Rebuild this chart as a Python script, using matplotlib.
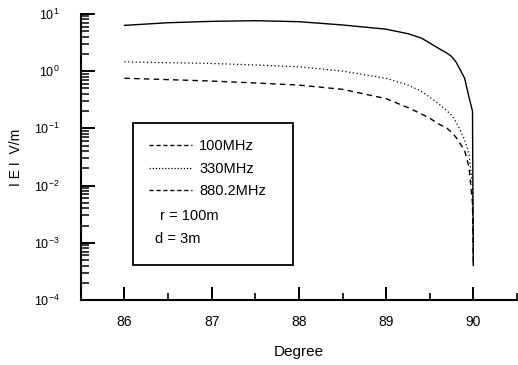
import matplotlib
matplotlib.use("Agg")
import matplotlib.pyplot as plt
from matplotlib.lines import Line2D
from matplotlib.patches import Rectangle
from matplotlib.ticker import LogLocator, MultipleLocator, NullFormatter

plt.rcParams['font.family'] = ['Liberation Sans', 'DejaVu Sans']

# Valores
grados = [86.0, 86.5, 87.0, 87.5, 88.0, 88.5, 89.0, 89.25, 89.4, 89.5, 89.6,
          89.7, 89.75, 89.8, 89.85, 89.9, 89.95, 89.99, 90.0]
e_100 = [6.3, 7.0, 7.4, 7.6, 7.3, 6.4, 5.4, 4.5, 3.8, 3.1, 2.5,
         2.05, 1.8, 1.45, 1.05, 0.75, 0.35, 0.2, 0.0004]
e_330 = [1.45, 1.40, 1.36, 1.28, 1.19, 1.0, 0.75, 0.57, 0.45, 0.35, 0.27,
         0.20, 0.17, 0.13, 0.093, 0.063, 0.036, 0.01, 0.0004]
e_880 = [0.75, 0.71, 0.67, 0.62, 0.57, 0.48, 0.33, 0.23, 0.18, 0.15, 0.12,
         0.10, 0.085, 0.07, 0.054, 0.041, 0.021, 0.005, 0.0004]

etiquetas = ['100MHz', '330MHz', '880.2MHz']
notas = ['r = 100m', 'd = 3m']

fig = plt.figure(figsize=(5.18, 3.65), dpi=100)
ax = fig.add_axes([0.156, 0.178, 0.842, 0.784])

ax.plot(grados, e_100, color='black', lw=1.0)
ax.plot(grados, e_330, color='black', lw=0.9, linestyle=(0, (1, 2)))
ax.plot(grados, e_880, color='black', lw=1.0, linestyle=(0, (4, 3)))

ax.set_yscale('log')
ax.set_ylim(1e-4, 1e1)
ax.set_xlim(85.5, 90.5)
ax.xaxis.set_major_locator(MultipleLocator(1))
ax.xaxis.set_minor_locator(MultipleLocator(0.5))
ax.yaxis.set_major_locator(LogLocator(base=10, numticks=10))
ax.yaxis.set_minor_locator(LogLocator(base=10, subs=range(2, 10), numticks=20))
ax.yaxis.set_minor_formatter(NullFormatter())

for lado in ['top', 'right']:
    ax.spines[lado].set_visible(False)
for lado in ['left', 'bottom']:
    ax.spines[lado].set_linewidth(1.5)

ax.tick_params(axis='x', which='major', direction='in', length=9.5, width=1.4,
               labelsize=10, pad=11)
ax.tick_params(axis='x', which='minor', direction='in', length=5, width=1.2)
ax.tick_params(axis='y', which='major', direction='in', length=10, width=1.4,
               labelsize=9, pad=15)
ax.tick_params(axis='y', which='minor', direction='in', length=6, width=1.1)

ax.set_xlabel('Degree', fontsize=11, labelpad=11)
ax.set_ylabel('I E I  V/m', fontsize=10, labelpad=8)

# Caja de la leyenda
ax.add_patch(Rectangle((0.119, 0.122), 0.367, 0.497, transform=ax.transAxes,
                       fill=False, edgecolor='black', lw=1.3))
manejadores = [
    Line2D([], [], color='black', lw=1.0, linestyle=(0, (3, 2))),
    Line2D([], [], color='black', lw=0.9, linestyle=(0, (1, 1.5))),
    Line2D([], [], color='black', lw=1.0, linestyle=(0, (3, 2))),
]
ax.legend(manejadores, etiquetas, loc='upper left', bbox_to_anchor=(0.156, 0.562),
          frameon=False, fontsize=10.5, handlelength=2.95, handletextpad=0.5,
          labelspacing=0.58, borderpad=0, borderaxespad=0)
ax.text(0.181, 0.294, notas[0], transform=ax.transAxes, fontsize=10.5, va='center')
ax.text(0.170, 0.213, notas[1], transform=ax.transAxes, fontsize=10.5, va='center')

fig.savefig('out.png', dpi=100)
